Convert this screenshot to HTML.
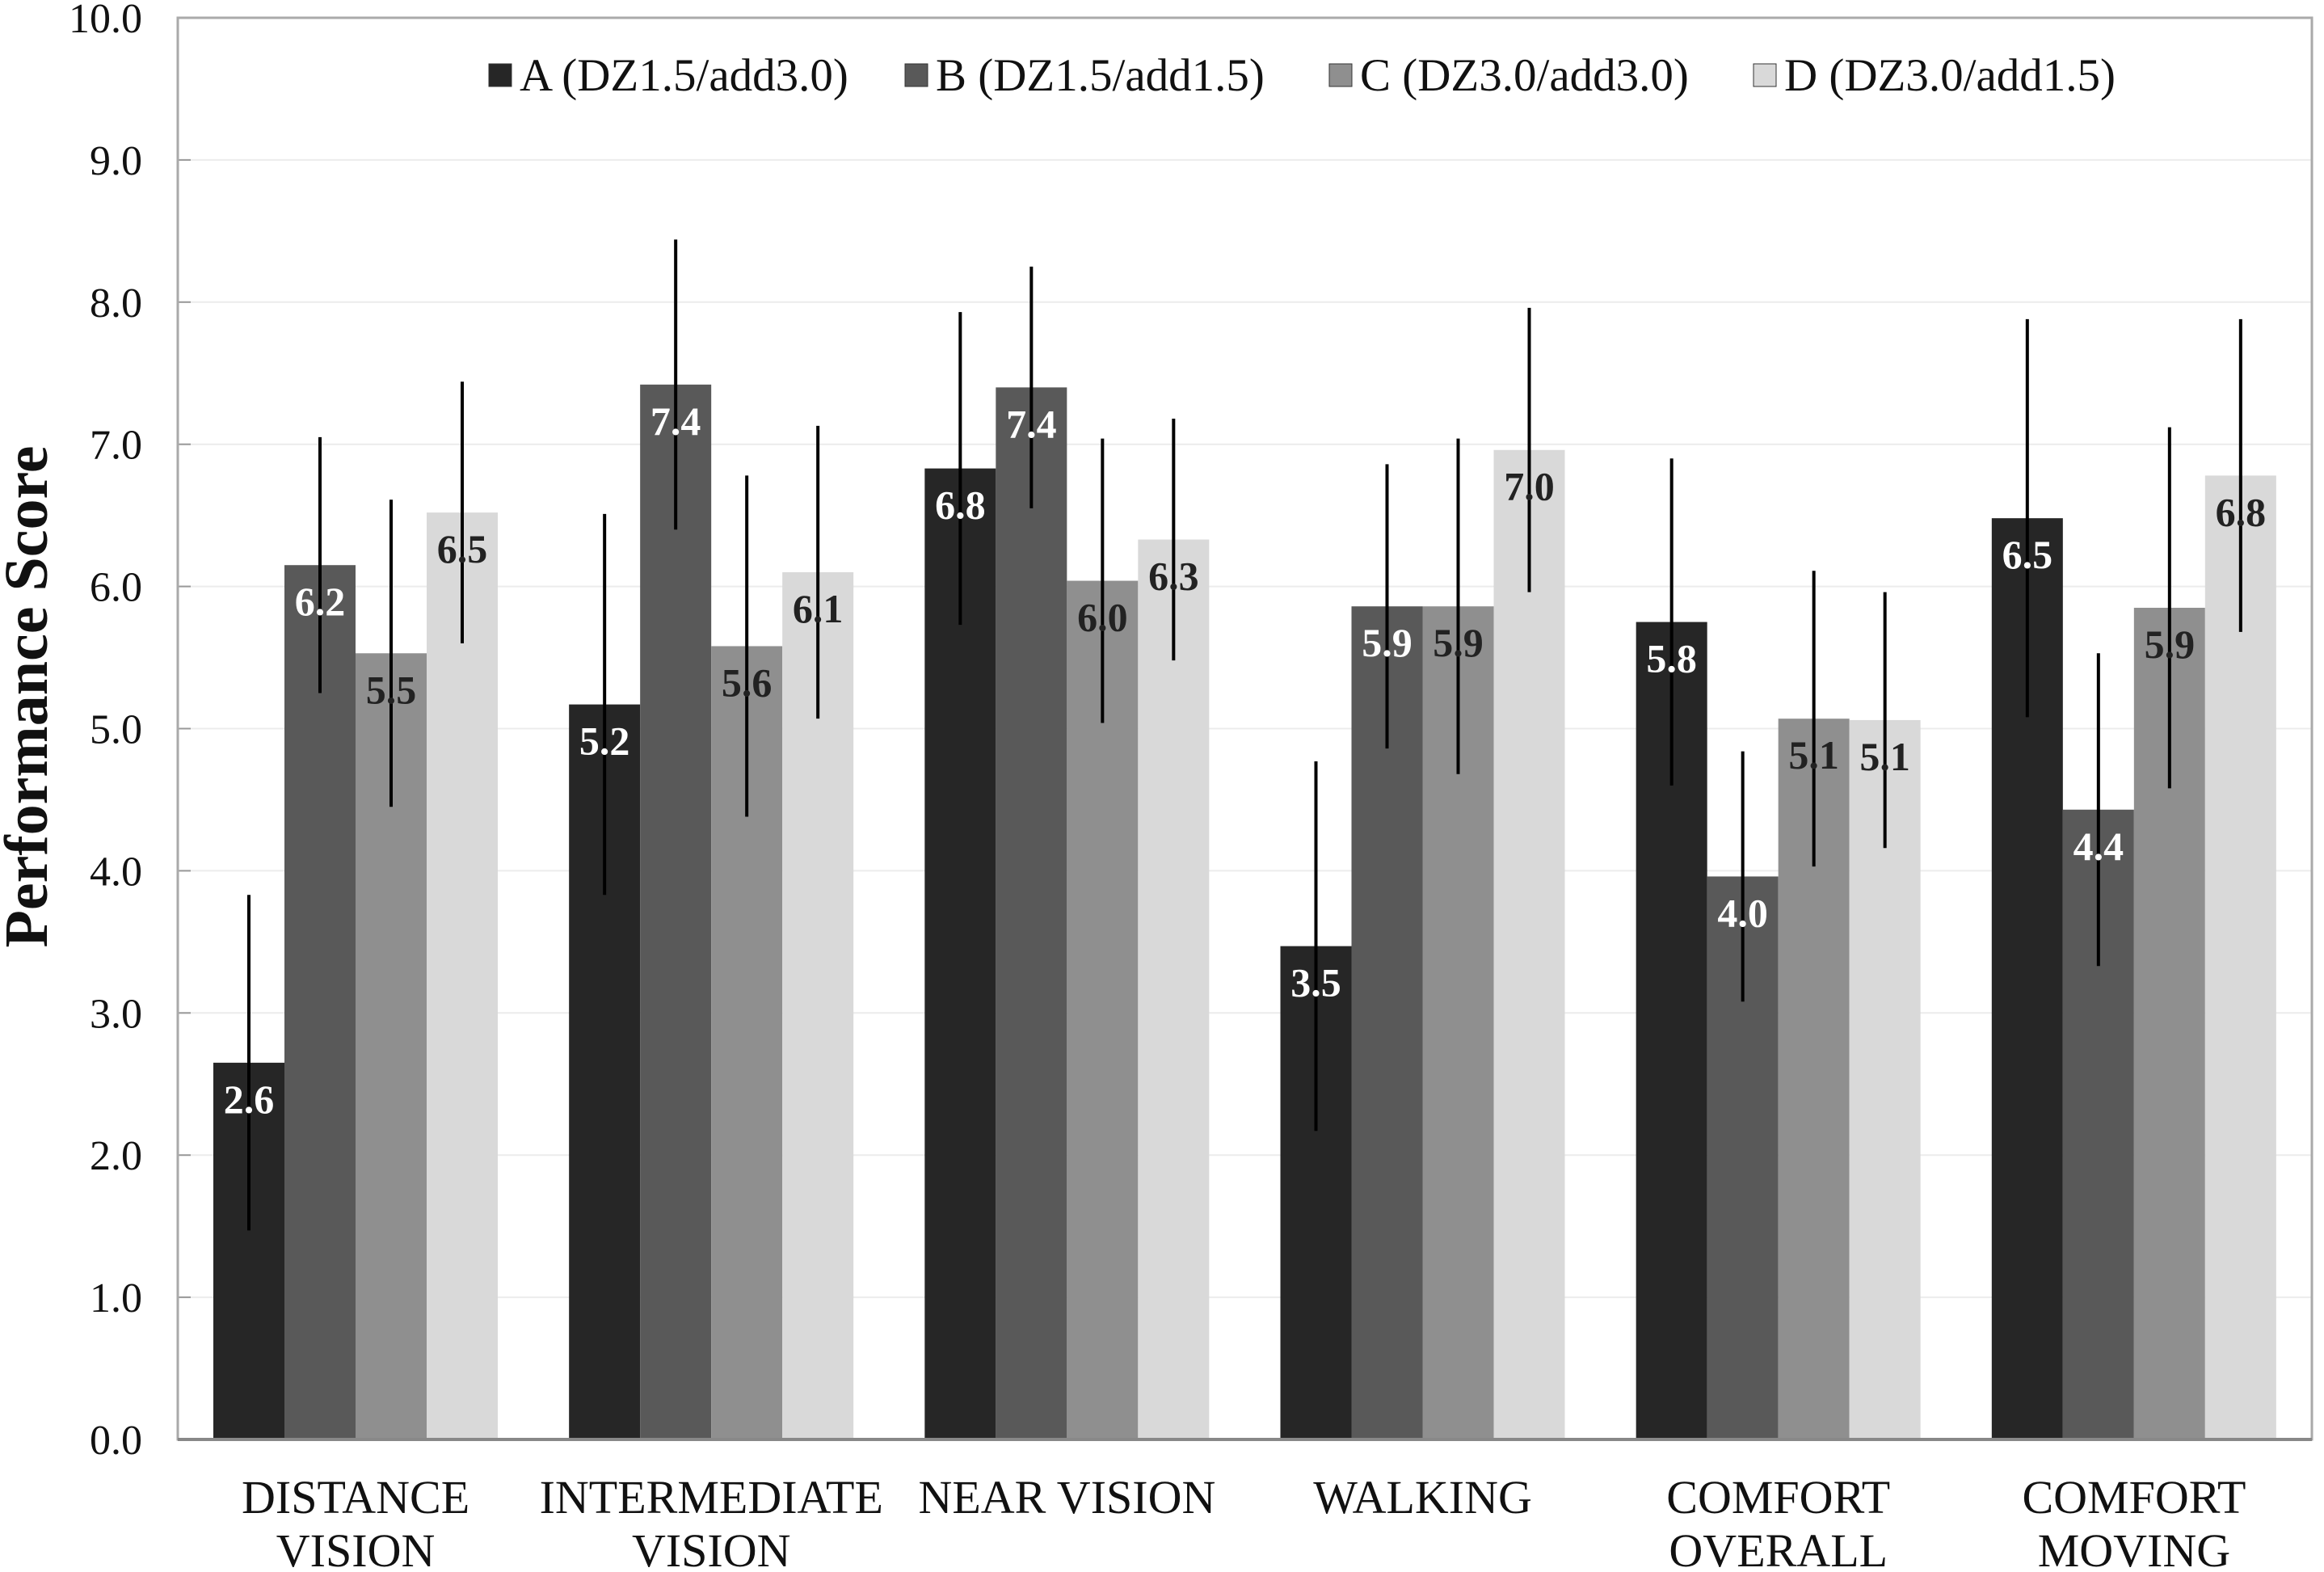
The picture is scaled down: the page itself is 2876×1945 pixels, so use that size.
<!DOCTYPE html>
<html><head><meta charset="utf-8"><style>
html,body{margin:0;padding:0;background:#fff}
svg text{font-family:"Liberation Serif",serif}
</style></head><body>
<svg id="chart" width="2876" height="1940" viewBox="0 0 2876 1940" xmlns="http://www.w3.org/2000/svg">
<g id="grid"></g><g id="bars"></g><g id="err"></g><g id="labels"></g><g id="axes"></g><g id="legend"></g>
<text transform="translate(58,862) rotate(-90)" text-anchor="middle" font-size="76" font-weight="bold" fill="#111">Performance Score</text>
</svg>
<script>
const categories = [["DISTANCE","VISION"],["INTERMEDIATE","VISION"],["NEAR VISION"],["WALKING"],["COMFORT","OVERALL"],["COMFORT","MOVING"]];
const seriesNames = ["A (DZ1.5/add3.0)","B (DZ1.5/add1.5)","C (DZ3.0/add3.0)","D (DZ3.0/add1.5)"];
const valuesA = [2.65,5.17,6.83,3.47,5.75,6.48];
const valuesB = [6.15,7.42,7.40,5.86,3.96,4.43];
const valuesC = [5.53,5.58,6.04,5.86,5.07,5.85];
const valuesD = [6.52,6.10,6.33,6.96,5.06,6.78];
const errA = [1.18,1.34,1.10,1.30,1.15,1.40];
const errB = [0.90,1.02,0.85,1.00,0.88,1.10];
const errC = [1.08,1.20,1.00,1.18,1.04,1.27];
const errD = [0.92,1.03,0.85,1.00,0.90,1.10];
const labelsA = ["2.6","5.2","6.8","3.5","5.8","6.5"];
const labelsB = ["6.2","7.4","7.4","5.9","4.0","4.4"];
const labelsC = ["5.5","5.6","6.0","5.9","5.1","5.9"];
const labelsD = ["6.5","6.1","6.3","7.0","5.1","6.8"];
const yTicks = [0,1,2,3,4,5,6,7,8,9,10];

const NS="http://www.w3.org/2000/svg";
const L=220,R=2861,Y0=1781,Y10=22;
const y=v=>Y0-(Y0-Y10)*v/10;
const gw=(R-L)/categories.length, bw=88, off=44;
const bx=(g,s)=>L+g*gw+off+s*bw;
const colors=["#262626","#595959","#8f8f8f","#d9d9d9"];
const txtCol=["#fff","#fff","#222","#222"];
const vals=[valuesA,valuesB,valuesC,valuesD], errs=[errA,errB,errC,errD], labs=[labelsA,labelsB,labelsC,labelsD];
function mk(t,a,p){const e=document.createElementNS(NS,t);for(const k in a)e.setAttribute(k,a[k]);document.getElementById(p).appendChild(e);return e;}

yTicks.forEach(t=>{
  if(t>0&&t<10){const g=mk("line",{x1:L,x2:R,y1:y(t),y2:y(t),stroke:"#ececec","stroke-width":2},"grid");
  
  }
  const tk=mk("line",{x1:L,x2:L+16,y1:y(t),y2:y(t),stroke:"#999","stroke-width":2},"axes");
  
  
  const tx=mk("text",{x:176,y:y(t)+18,"text-anchor":"end","font-size":52,fill:"#111"},"axes");
  tx.textContent=t.toFixed(1);
  
  
});
const fr=mk("rect",{x:L,y:Y10,width:R-L,height:Y0-Y10,fill:"none",stroke:"#aaa","stroke-width":3},"axes");


const xa=mk("line",{x1:L,x2:R,y1:Y0,y2:Y0,stroke:"#888","stroke-width":4},"axes");



categories.forEach((c,g)=>{
  const cx=L+g*gw+gw/2;
  c.forEach((line,i)=>{
    const t=mk("text",{x:cx,y:1872+i*66,"text-anchor":"middle","font-size":58,fill:"#111"},"axes");
    t.textContent=line;
    
    
  });
  vals.forEach((vs,s)=>{
    const v=vs[g],x=bx(g,s);
    const r=mk("rect",{x:x,y:y(v),width:bw,height:Y0-y(v),fill:colors[s]},"bars");
    
    
    const e=errs[s][g];
    const el=mk("line",{x1:x+bw/2,x2:x+bw/2,y1:y(v+e),y2:y(v-e),stroke:"#000","stroke-width":4},"err");
    
    
    const lt=mk("text",{x:x+bw/2,y:y(v)+62,"text-anchor":"middle","font-size":50,"font-weight":"bold",fill:txtCol[s]},"labels");
    lt.textContent=labs[s][g];
    
    
  });
});
const lx=[605,1120,1645,2170];
seriesNames.forEach((n,s)=>{
  const sq=mk("rect",{x:lx[s],y:79,width:28,height:28,fill:colors[s],stroke:"#333","stroke-width":1},"legend");
  
  
  const t=mk("text",{x:lx[s]+38,y:112,"font-size":57,fill:"#111"},"legend");
  t.textContent=n;
  
  
});
</script>
</body></html>
